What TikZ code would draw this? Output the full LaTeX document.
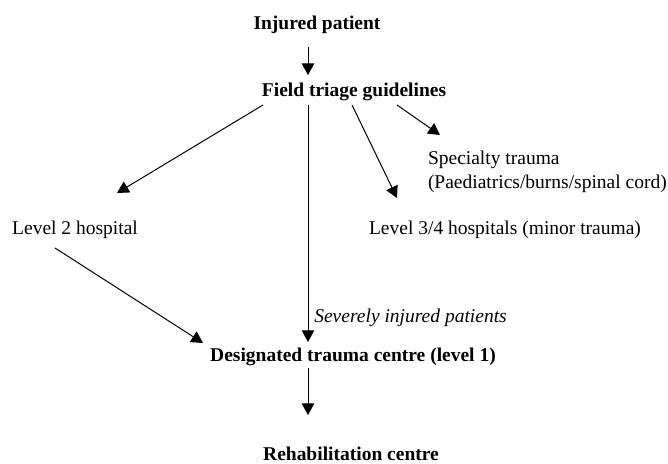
\documentclass[tikz,border=0pt]{standalone}
\usepackage{fontspec}
\setmainfont{Liberation Serif}
\usetikzlibrary{arrows.meta,calc}

\begin{document}
\begin{tikzpicture}[x=0.6pt,y=-0.6pt,
  every node/.style={inner sep=1pt,font=\fontsize{11.7}{14.2}\selectfont},
  stage/.style={font=\fontsize{11.7}{14.2}\selectfont\bfseries},
  flow/.style={-{Triangle[length=7pt,width=7.5pt]},line width=0.6pt}]
\useasboundingbox (0,0) rectangle (668,464);
% stages
\node[stage] (inj) at (317,25) {Injured patient};
\node[stage] (fld) at (354,92) {Field triage guidelines};
\node (lvtwo) at (75,230) {Level 2 hospital};
\node[align=left,anchor=west] (spc) at (426,172) {Specialty trauma\\(Paediatrics/burns/spinal cord)};
\node (lvthree) at (505,230) {Level 3/4 hospitals (minor trauma)};
\node[stage] (dtc) at (353,357) {Designated trauma centre (level 1)};
\node[stage] (reh) at (351,454) {Rehabilitation centre};
% connectors
\draw[flow] ($(inj)+(-9,22)$) -- ($(fld)+(-46,-17)$);
\draw[flow] ($(fld)+(-91,13)$) -- ($(lvtwo)+(42,-37)$);
\draw[flow] ($(fld)+(-46,13)$) -- ($(dtc)+(-45,-15)$)
  node[pos=0.9,anchor=west,xshift=2.5pt,font=\fontsize{11.7}{14.2}\selectfont\itshape] (sev) {Severely injured patients};
\draw[flow] ($(fld)+(-2,13)$) -- ($(lvthree)+(-108,-32)$);
\draw[flow] ($(fld)+(43,13)$) -- ($(spc.west)+(14,-37)$);
\draw[flow] ($(lvtwo)+(-20,18)$) -- ($(dtc)+(-150,-14)$);
\draw[flow] ($(dtc)+(-45,11)$) -- ($(reh)+(-43,-39)$);
\end{tikzpicture}
\end{document}
